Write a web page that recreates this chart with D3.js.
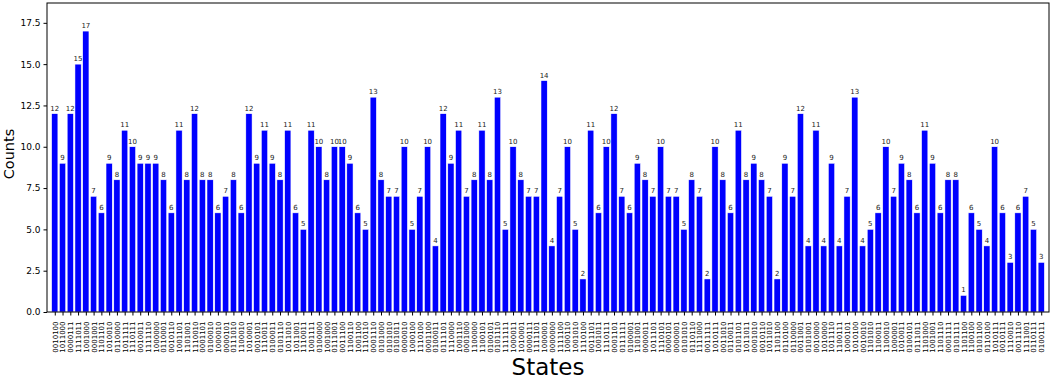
<!DOCTYPE html>
<html>
<head>
<meta charset="utf-8">
<script src="https://cdn.jsdelivr.net/npm/d3@7"></script>
<style>
  body { margin: 0; background: #fff; }
  text { font-family: "DejaVu Sans", sans-serif; }
</style>
</head>
<body>
<script>
// states on the x axis, read left to right
var states = [
  "0010100","1011000","0000111","1111011","1001000","0001001","1101101","1010010",
  "0110000","1011111","1110111","0010011","1111110","1000000","0110001","0010110",
  "1001101","1101001","1110010","0001101","0100010","1000010","0000101","0111010",
  "1100010","1010001","0010101","1110011","0100011","0101110","1011010","1011001",
  "1110011","1001111","0100000","1001000","0111001","0011100","1100110","1001100",
  "1110110","0001110","0101000","0101010","0101011","0000010","1000100","1110100",
  "0001100","0100011","0111101","1110000","1001110","0001000","1100000","1100101",
  "0100101","0101110","1111111","1000011","1010001","0000111","1111101","1000001",
  "0000000","1111100","1000110","1001010","1110100","0011101","1001011","1110111",
  "0001101","0111111","0100001","1101001","0000011","1011101","1110101","0000101",
  "0000001","0101010","0110110","1111000","0011111","1010111","0011010","0110011",
  "0101101","1011011","0001010","0010110","1011010","1101100","0110100","0110000",
  "0011001","0101001","0010000","1010000","1011110","1100111","1000101","1010100",
  "0010010","1101010","1100011","1100010","1000001","1010011","0100101","0111011",
  "1101000","1001001","1101110","0001111","0101111","1101100","1100100","0101100",
  "0110100","1010111","0010111","1110010","0011110","1111001","0110111","0100111"
];

// counts per state
var counts = [
  12, 9, 12, 15, 17, 7, 6, 9, 8, 11,
  10, 9, 9, 9, 8, 6, 11, 8, 12, 8,
  8, 6, 7, 8, 6, 12, 9, 11, 9, 8,
  11, 6, 5, 11, 10, 8, 10, 10, 9, 6,
  5, 13, 8, 7, 7, 10, 5, 7, 10, 4,
  12, 9, 11, 7, 8, 11, 8, 13, 5, 10,
  8, 7, 7, 14, 4, 7, 10, 5, 2, 11,
  6, 10, 12, 7, 6, 9, 8, 7, 10, 7,
  7, 5, 8, 7, 2, 10, 8, 6, 11, 8,
  9, 8, 7, 2, 9, 7, 12, 4, 11, 4,
  9, 4, 7, 13, 4, 5, 6, 10, 7, 9,
  8, 6, 11, 9, 6, 8, 8, 1, 6, 5,
  4, 10, 6, 3, 6, 7, 5, 3
];

var yTicks = [0, 2.5, 5, 7.5, 10, 12.5, 15, 17.5];

var W = 1052, H = 379;
var margin = {left: 47, right: 3, top: 3, bottom: 67};
var width = W - margin.left - margin.right,
    height = H - margin.top - margin.bottom;

var svg = d3.select("body").append("svg")
    .attr("width", W)
    .attr("height", H);

var g = svg.append("g")
    .attr("transform", "translate(" + margin.left + "," + margin.top + ")");

// linear x so the -1..128 limits behave like the original
var x = d3.scaleLinear()
    .domain([-1, states.length])
    .range([0, width]);
var step = x(1) - x(0);

var y = d3.scaleLinear()
    .domain([0, 18.7])
    .range([height, 0]);

// bars
g.selectAll("rect.bar")
    .data(counts)
    .enter()
    .append("rect")
    .attr("class", "bar")
    .attr("x", function(d, i) { return x(i) - step * 0.4; })
    .attr("width", step * 0.8)
    .attr("y", function(d) { return y(d); })
    .attr("height", function(d) { return y(0) - y(d); })
    .attr("fill", "#0000ff")
    .attr("stroke", "#ffffff")
    .attr("stroke-width", 0.5);

// value labels
g.selectAll("text.val")
    .data(counts)
    .enter()
    .append("text")
    .attr("class", "val")
    .attr("x", function(d, i) { return x(i); })
    .attr("y", function(d) { return y(d) - 3; })
    .attr("text-anchor", "middle")
    .style("font-size", "7px")
    .attr("fill", "#222")
    .text(function(d) { return d; });

// y axis
var yAxis = g.append("g")
    .call(d3.axisLeft(y).tickValues(yTicks).tickFormat(d3.format(".1f")).tickSize(3.5).tickPadding(3));
yAxis.select(".domain").remove();
yAxis.selectAll("text").style("font-size", "9px").attr("fill", "#000");

// x axis ticks + rotated labels
var xAxis = g.append("g")
    .attr("transform", "translate(0," + height + ")")
    .call(d3.axisBottom(x)
        .tickValues(d3.range(states.length))
        .tickFormat(function(i) { return states[i]; })
        .tickSize(3.5)
        .tickPadding(2));
xAxis.select(".domain").remove();
xAxis.selectAll("text")
    .style("font-size", "7px")
    .attr("fill", "#000")
    .attr("text-anchor", "end")
    .attr("dy", "0.35em")
    .attr("transform", "rotate(-90)")
    .attr("x", -9.5)
    .attr("y", 0);

// frame
g.append("rect")
    .attr("width", width)
    .attr("height", height)
    .attr("fill", "none")
    .attr("stroke", "#000")
    .attr("stroke-width", 1);

// axis titles
svg.append("text")
    .attr("transform", "translate(14,154) rotate(-90)")
    .attr("text-anchor", "middle")
    .style("font-size", "14.5px")
    .text("Counts");

svg.append("text")
    .attr("x", margin.left + width / 2)
    .attr("y", 375)
    .attr("text-anchor", "middle")
    .style("font-size", "23px")
    .text("States");
</script>
</body>
</html>
